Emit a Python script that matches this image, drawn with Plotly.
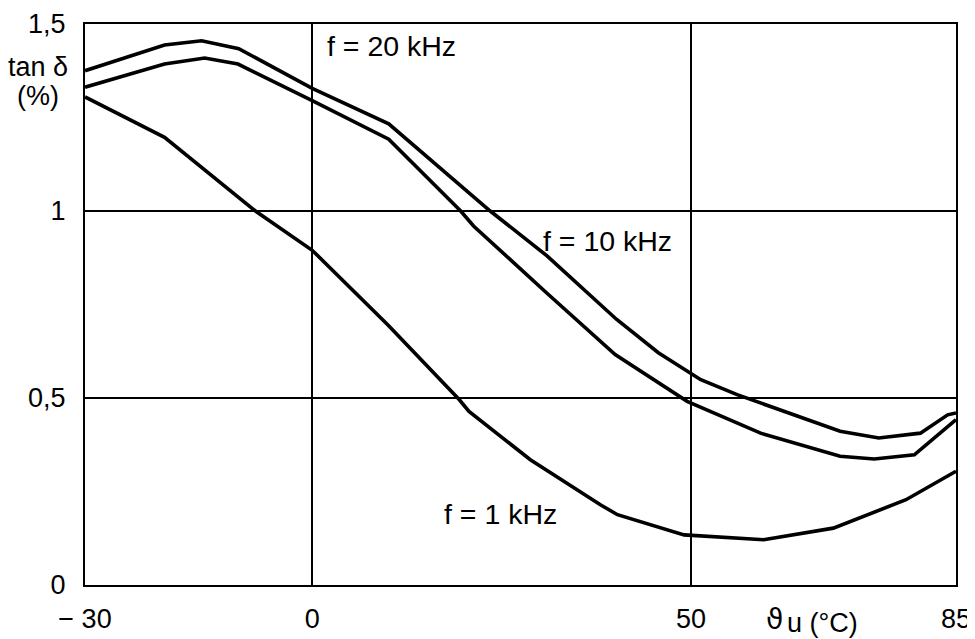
import plotly.graph_objects as go

# f = 20 kHz
x20 = [-30, -19.5, -14.6, -9.7, 0, 10.1, 23.5, 31, 40.2, 45.7, 51.3, 56.1, 69.7, 74.8, 80.3, 83.9, 85]
y20 = [1.375, 1.444, 1.455, 1.434, 1.328, 1.233, 1.0, 0.88, 0.71, 0.621, 0.549, 0.509, 0.411, 0.393, 0.406, 0.455, 0.46]

# f = 10 kHz
x10 = [-30, -19.5, -14.2, -9.8, 0, 10.1, 19.6, 21.3, 31, 40, 49.5, 59.2, 69.7, 74.2, 79.5, 85]
y10 = [1.331, 1.393, 1.409, 1.393, 1.295, 1.192, 1.0, 0.96, 0.78, 0.616, 0.491, 0.406, 0.344, 0.337, 0.348, 0.442]

# f = 1 kHz
x1 = [-30, -19.5, -7.5, 0, 10, 19.4, 20.7, 28.8, 38.1, 40.3, 49.1, 59.6, 68.8, 78.4, 85]
y1 = [1.305, 1.197, 1.0, 0.895, 0.695, 0.496, 0.464, 0.335, 0.214, 0.188, 0.134, 0.121, 0.152, 0.228, 0.304]

x_ticks = [-30, 0, 50, 85]
x_ticktext = ["\u2212 30", "0", "50", "85"]
y_ticks = [0, 0.5, 1, 1.5]
y_ticktext = ["0", "0,5", "1", "1,5"]

series = [(x20, y20), (x10, y10), (x1, y1)]
labels = [("f = 20 kHz", 1.7, 1.44), ("f = 10 kHz", 30.2, 0.92), ("f = 1 kHz", 17.2, 0.19)]

FONT = "Liberation Sans, Arial, Helvetica, sans-serif"

fig = go.Figure()
for xs, ys in series:
    fig.add_trace(go.Scatter(x=xs, y=ys, mode="lines",
                             line=dict(color="black", width=3.6),
                             showlegend=False, hoverinfo="skip"))

for txt, lx, ly in labels:
    fig.add_annotation(x=lx, y=ly, xref="x", yref="y", text=txt, showarrow=False,
                       xanchor="left", yanchor="middle",
                       font=dict(family=FONT, size=28.5, color="black"))

# y-axis title
fig.add_annotation(x=-0.0535, y=1.385, xref="paper", yref="y", text="tan \u03b4",
                   showarrow=False, xanchor="center", yanchor="middle",
                   font=dict(family=FONT, size=27, color="black"))
fig.add_annotation(x=-0.0535, y=1.307, xref="paper", yref="y", text="(%)",
                   showarrow=False, xanchor="center", yanchor="middle",
                   font=dict(family=FONT, size=27, color="black"))

# x-axis title: "ϑu (°C)"
fig.add_annotation(x=59.6, y=0, xref="x", yref="paper", text="\u03d1",
                   showarrow=False, xanchor="left", yanchor="middle", yshift=-34,
                   font=dict(family="DejaVu Sans", size=28, color="black"))
fig.add_annotation(x=62.4, y=0, xref="x", yref="paper", text="u (\u00b0C)",
                   showarrow=False, xanchor="left", yanchor="middle", yshift=-38,
                   font=dict(family=FONT, size=27, color="black"))

# page body has an 8px default margin, so the figure is 8px smaller than the window
fig.update_layout(
    width=967, height=631,
    margin=dict(l=77, r=19, t=16, b=54),
    paper_bgcolor="white", plot_bgcolor="white",
    font=dict(family=FONT, size=27, color="black"),
)
fig.update_xaxes(range=[-30, 85], tickvals=x_ticks, ticktext=x_ticktext,
                 showgrid=True, gridcolor="black", gridwidth=1.5,
                 showline=True, linecolor="black", linewidth=2, mirror=True,
                 ticks="", ticklabelstandoff=9, zeroline=False, automargin=False)
fig.update_yaxes(range=[0, 1.5], tickvals=y_ticks, ticktext=y_ticktext,
                 showgrid=True, gridcolor="black", gridwidth=1.5,
                 showline=True, linecolor="black", linewidth=2, mirror=True,
                 ticks="", ticklabelstandoff=12, zeroline=False, automargin=False)

fig.write_html("out.html")
